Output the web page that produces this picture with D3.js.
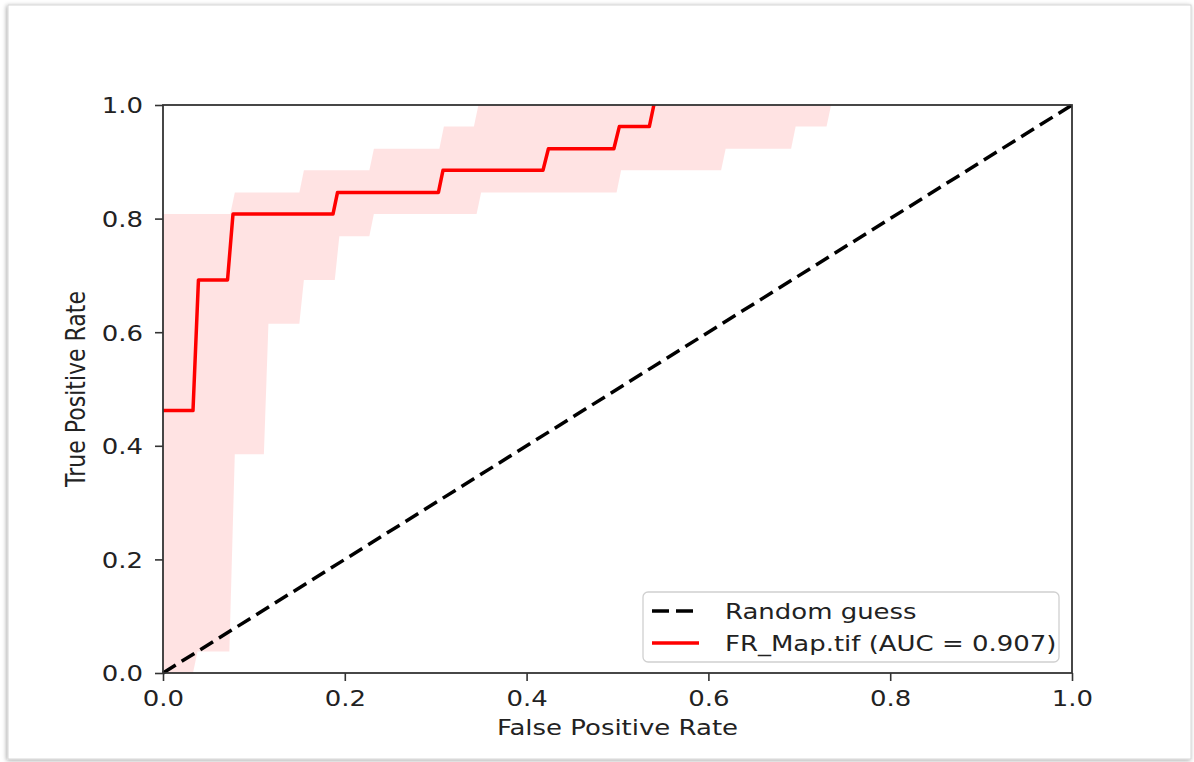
<!DOCTYPE html>
<meta charset="utf-8">
<script src="https://d3js.org/d3.v7.min.js"></script>
<style>
  body { margin: 0; background: #fff; }
  text { font-family: "DejaVu Sans", sans-serif; fill: #222; }
</style>
<div id="my_dataviz"></div>
<script>
// mean ROC curve (it vanishes into the top spine after 0.54)
var meanFpr = [0, 0.033, 0.039, 0.071, 0.077, 0.187, 0.192, 0.303, 0.308, 0.418, 0.424, 0.496, 0.502, 0.535, 0.540];
var meanTpr = [0.462, 0.462, 0.692, 0.692, 0.808, 0.808, 0.846, 0.846, 0.885, 0.885, 0.923, 0.923, 0.962, 0.962, 1.0];

// upper edge of the band
var upperFpr = [0, 0.074, 0.079, 0.150, 0.155, 0.227, 0.232, 0.304, 0.309, 0.342, 0.347, 1.0];
var upperTpr = [0.808, 0.808, 0.846, 0.846, 0.885, 0.885, 0.923, 0.923, 0.962, 0.962, 1.0, 1.0];

// lower edge of the band
var lowerFpr = [0, 0.033, 0.038, 0.073, 0.079, 0.111, 0.116, 0.150, 0.155, 0.189, 0.194, 0.227, 0.232, 0.345, 0.350, 0.499, 0.504, 0.614, 0.619, 0.691, 0.696, 0.730, 0.735, 1.0];
var lowerTpr = [0, 0, 0.038, 0.038, 0.385, 0.385, 0.615, 0.615, 0.692, 0.692, 0.769, 0.769, 0.808, 0.808, 0.846, 0.846, 0.885, 0.885, 0.923, 0.923, 0.962, 0.962, 1.0, 1.0];

var tickValues = [0, 0.2, 0.4, 0.6, 0.8, 1.0];
var legendLabels = ["Random guess", "FR_Map.tif (AUC = 0.907)"];

// picture is a bit stretched sideways
var sx = 1.18;
var fs = "22px";

var margin = {top: 105, right: 122, bottom: 89, left: 163},
    width = 1194 - margin.left - margin.right,
    height = 762 - margin.top - margin.bottom;

var root = d3.select("#my_dataviz")
  .append("svg")
    .attr("width", 1194)
    .attr("height", 762);

// frame with a soft shadow
var defs = root.append("defs");
var f = defs.append("filter").attr("id", "shadow")
  .attr("x", "-5%").attr("y", "-5%").attr("width", "110%").attr("height", "110%");
f.append("feDropShadow")
  .attr("dx", -1).attr("dy", 1).attr("stdDeviation", 2)
  .attr("flood-color", "#000").attr("flood-opacity", 0.35);

root.append("rect")
  .attr("x", 8).attr("y", 5).attr("width", 1183).attr("height", 754)
  .attr("fill", "#fff").attr("stroke", "#d6d6d6").attr("stroke-width", 1)
  .attr("filter", "url(#shadow)");

var svg = root.append("g")
  .attr("transform", "translate(" + margin.left + "," + margin.top + ")");

var x = d3.scaleLinear().domain([0, 1]).range([0, width]);
var y = d3.scaleLinear().domain([0, 1]).range([height, 0]);

var line = d3.line()
  .x(function(d) { return x(d[0]); })
  .y(function(d) { return y(d[1]); });

// band polygon: upper edge then lower edge backwards
var upperPts = upperFpr.map(function(v, i) { return [v, upperTpr[i]]; });
var lowerPts = lowerFpr.map(function(v, i) { return [v, lowerTpr[i]]; });
var bandPts = upperPts.concat(lowerPts.slice().reverse());

svg.append("path")
  .attr("d", line(bandPts) + "Z")
  .attr("fill", "#ff0000")
  .attr("fill-opacity", 0.11)
  .attr("stroke", "none");

// chance line
svg.append("path")
  .attr("d", line([[0, 0], [1, 1]]))
  .attr("fill", "none")
  .attr("stroke", "#000")
  .attr("stroke-width", 3.5)
  .attr("stroke-dasharray", "15,7");

// mean roc
svg.append("path")
  .attr("d", line(meanFpr.map(function(v, i) { return [v, meanTpr[i]]; })))
  .attr("fill", "none")
  .attr("stroke", "#ff0000")
  .attr("stroke-width", 3.5)
  .attr("stroke-linejoin", "round");

// axes
var xAxis = svg.append("g")
  .attr("transform", "translate(0," + height + ")")
  .call(d3.axisBottom(x).tickValues(tickValues).tickFormat(d3.format(".1f")).tickSize(8).tickPadding(10));
var yAxis = svg.append("g")
  .call(d3.axisLeft(y).tickValues(tickValues).tickFormat(d3.format(".1f")).tickSize(8).tickPadding(9));

svg.selectAll(".domain").remove();
svg.selectAll(".tick line").attr("stroke", "#333").attr("stroke-width", 1.6);
svg.selectAll(".tick text")
  .style("font-size", fs)
  .attr("fill", "#222");
xAxis.selectAll(".tick text").attr("y", 17).attr("transform", "scale(" + sx + ",1)");
yAxis.selectAll(".tick text").attr("x", -20 / sx).attr("dy", "0.36em").attr("transform", "scale(" + sx + ",1)");

// spines
svg.append("rect")
  .attr("width", width).attr("height", height)
  .attr("fill", "none").attr("stroke", "#333").attr("stroke-width", 1.8);

// axis titles
svg.append("text")
  .attr("transform", "translate(" + (width / 2) + "," + (height + 62) + ") scale(" + sx + ",1)")
  .attr("text-anchor", "middle")
  .style("font-size", fs)
  .text("False Positive Rate");

svg.append("text")
  .attr("transform", "translate(" + (-78) + "," + (height / 2) + ") rotate(-90) scale(1," + sx + ")")
  .attr("text-anchor", "middle")
  .style("font-size", fs)
  .text("True Positive Rate");

// legend
var legend = svg.append("g")
  .attr("transform", "translate(" + (643 - margin.left) + "," + (592 - margin.top) + ")");
legend.append("rect")
  .attr("width", 416).attr("height", 70).attr("rx", 5)
  .attr("fill", "#fff").attr("fill-opacity", 0.8)
  .attr("stroke", "#d0d0d0").attr("stroke-width", 1.3);

var styles = [{stroke: "#000", dash: "17,7"}, {stroke: "#ff0000", dash: null}];
legendLabels.forEach(function(lbl, i) {
  var ly = 19 + i * 32;
  legend.append("line")
    .attr("x1", 9).attr("x2", 56).attr("y1", ly).attr("y2", ly)
    .attr("stroke", styles[i].stroke)
    .attr("stroke-width", 3.5)
    .attr("stroke-dasharray", styles[i].dash);
  legend.append("text")
    .attr("transform", "translate(82," + (ly + 7.5) + ") scale(" + sx + ",1)")
    .style("font-size", fs)
    .text(lbl);
});
</script>
